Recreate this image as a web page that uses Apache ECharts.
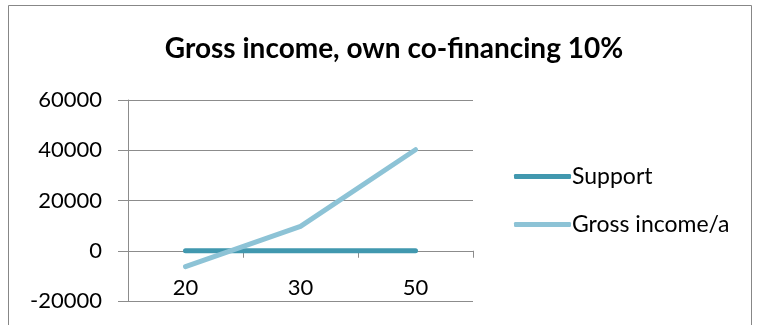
<!DOCTYPE html>
<html>
<head>
<meta charset="utf-8">
<script src="https://cdn.jsdelivr.net/npm/echarts@6/dist/echarts.min.js"></script>
<style>
  html, body { margin: 0; padding: 0; background: #fff; }
  #chart { width: 757px; height: 325px; }
</style>
</head>
<body>
<div id="chart"></div>
<script>
// Category labels (co-financing share) and the two plotted series
const categories = ['20', '30', '50'];
const supportValues = [0, 0, 0];
const grossIncomeValues = [-6300, 9700, 40200];

const titleText = 'Gross income, own co-financing 10%';
const seriesNames = ['Support', 'Gross income/a'];

const FONT = 'Lato, "Open Sans", sans-serif';
const AXIS_GREY = '#8c8c8c';

// value range of the y axis; the category axis is drawn where y = 0
const Y_MIN = -20000, Y_MAX = 60000, Y_STEP = 20000;
const GRID_TOP = 100, GRID_BOTTOM = 24, GRID_H = 325 - GRID_TOP - GRID_BOTTOM;
const zeroOffset = -GRID_H * (0 - Y_MIN) / (Y_MAX - Y_MIN);

const chart = echarts.init(document.getElementById('chart'), null, { renderer: 'canvas' });

chart.setOption({
  backgroundColor: '#ffffff',
  animation: false,
  title: {
    text: titleText,
    left: 389,
    textAlign: 'center',
    top: 30,
    textStyle: { fontFamily: FONT, fontWeight: 'bold', fontSize: 28, color: '#000' }
  },
  graphic: [{
    type: 'rect',
    shape: { x: 8.5, y: 5.5, width: 743, height: 330 },
    style: { fill: 'none', stroke: '#878787', lineWidth: 1 },
    silent: true
  }],
  legend: {
    orient: 'vertical',
    left: 509,
    top: 160,
    itemGap: 25,
    itemWidth: 57,
    itemHeight: 5,
    icon: 'roundRect',
    textStyle: { fontFamily: FONT, fontSize: 23, color: '#000', padding: [0, 0, 0, -4] },
    data: seriesNames
  },
  grid: { left: 128, right: 284, top: GRID_TOP, bottom: GRID_BOTTOM, outerBoundsMode: 'none', containLabel: false },
  xAxis: {
    type: 'category',
    data: categories,
    boundaryGap: true,
    position: 'bottom',
    offset: zeroOffset,
    axisLine: { onZero: false, lineStyle: { color: AXIS_GREY, width: 1 } },
    axisTick: { show: true, length: 7, lineStyle: { color: AXIS_GREY } },
    axisLabel: { margin: 26, fontFamily: FONT, fontSize: 22, color: '#000' },
    splitLine: { show: false }
  },
  yAxis: {
    type: 'value',
    min: Y_MIN,
    max: Y_MAX,
    interval: Y_STEP,
    axisLine: { show: true, lineStyle: { color: AXIS_GREY, width: 1 } },
    axisTick: { show: true, length: 10, lineStyle: { color: AXIS_GREY } },
    axisLabel: { margin: 26, fontFamily: FONT, fontSize: 22, color: '#000', formatter: v => String(v) },
    splitLine: { show: true, lineStyle: { color: AXIS_GREY, width: 1 } }
  },
  series: [
    {
      name: seriesNames[0],
      type: 'line',
      data: supportValues,
      symbol: 'none',
      color: '#4198AF',
      lineStyle: { width: 5, cap: 'round', join: 'round' }
    },
    {
      name: seriesNames[1],
      type: 'line',
      data: grossIncomeValues,
      symbol: 'none',
      color: '#8DC3D6',
      lineStyle: { width: 5, cap: 'round', join: 'round' }
    }
  ]
});
</script>
</body>
</html>
